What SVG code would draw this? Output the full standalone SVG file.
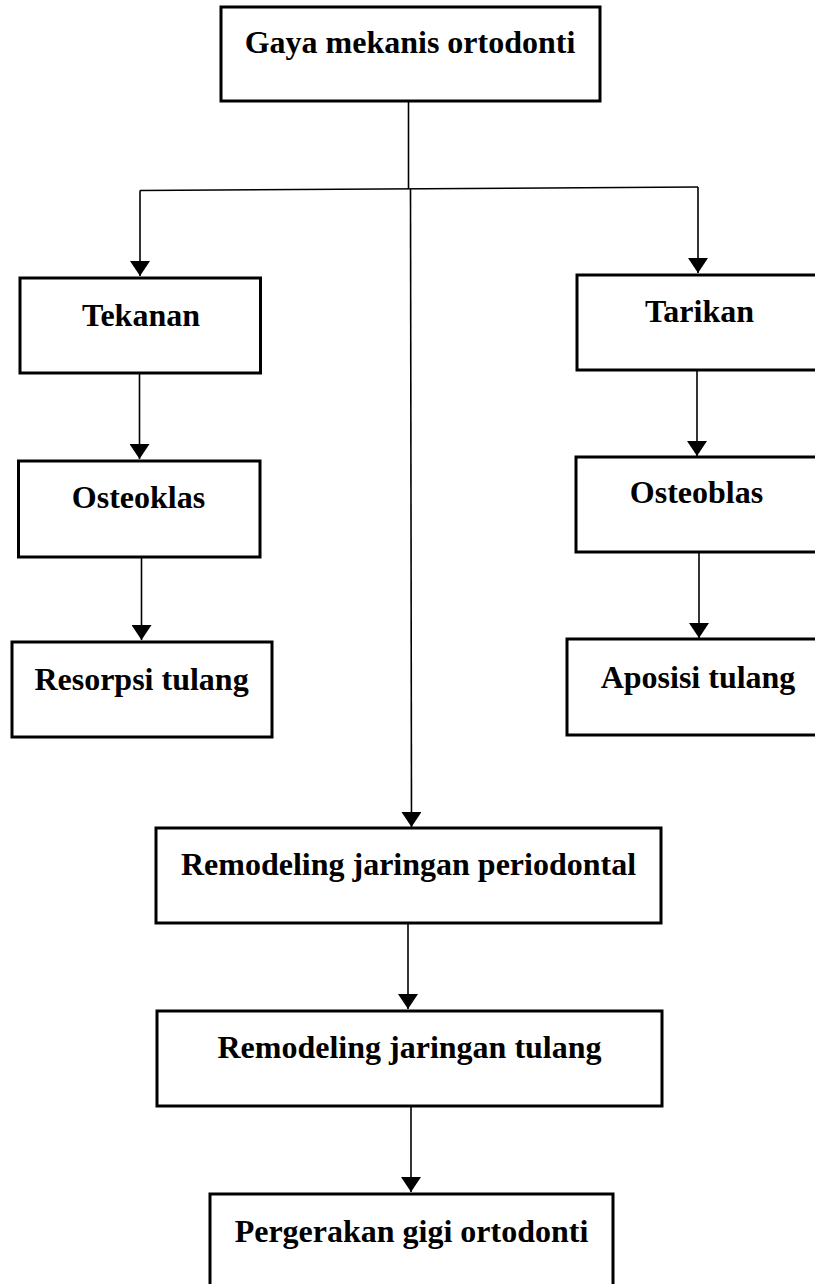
<svg xmlns="http://www.w3.org/2000/svg" width="815" height="1284" viewBox="0 0 815 1284">
<style>
.box{fill:#fff;stroke:#000;stroke-width:3}
.lbl{font-family:"Liberation Serif","Times New Roman",serif;font-weight:bold;font-size:32px;fill:#000;text-anchor:middle}
.con{fill:none;stroke:#000;stroke-width:1.6}
</style>
<defs>
<marker id="arr" markerWidth="15" markerHeight="20" refX="15" refY="10" orient="auto" markerUnits="userSpaceOnUse" viewBox="0 0 15 20">
<path d="M0,0 L15,10 L0,20 Z" fill="#000"/>
</marker>
</defs>
<rect width="815" height="1284" fill="#fff"/>
<g id="connectors">
<polyline class="con" points="408.5,101 408.5,189"/>
<line class="con" x1="140" y1="190.5" x2="698" y2="187"/>
<polyline class="con" points="140,190.5 140,276" marker-end="url(#arr)"/>
<polyline class="con" points="698,187 698,273" marker-end="url(#arr)"/>
<polyline class="con" points="410.5,189 411.5,827" marker-end="url(#arr)"/>
<polyline class="con" points="139.5,373 139.5,459" marker-end="url(#arr)"/>
<polyline class="con" points="697,370 697,456" marker-end="url(#arr)"/>
<polyline class="con" points="141.5,557 141.5,640" marker-end="url(#arr)"/>
<polyline class="con" points="699,552 699,638" marker-end="url(#arr)"/>
<polyline class="con" points="408,923 408,1009" marker-end="url(#arr)"/>
<polyline class="con" points="411,1106 411,1192" marker-end="url(#arr)"/>
</g>
<g id="n-gaya">
<rect class="box" x="221" y="7" width="379" height="94"/>
<text class="lbl" x="410" y="53">Gaya mekanis ortodonti</text>
</g>
<g id="n-tekanan">
<rect class="box" x="20" y="278" width="240.5" height="95"/>
<text class="lbl" x="141" y="326">Tekanan</text>
</g>
<g id="n-tarikan">
<rect class="box" x="577" y="275" width="250" height="95"/>
<text class="lbl" x="699.5" y="322">Tarikan</text>
</g>
<g id="n-osteoklas">
<rect class="box" x="18.5" y="461" width="241.5" height="96"/>
<text class="lbl" x="138.5" y="508">Osteoklas</text>
</g>
<g id="n-osteoblas">
<rect class="box" x="576" y="457" width="250" height="95"/>
<text class="lbl" x="696.5" y="503">Osteoblas</text>
</g>
<g id="n-resorpsi">
<rect class="box" x="12" y="642" width="260" height="95"/>
<text class="lbl" x="141.5" y="690">Resorpsi tulang</text>
</g>
<g id="n-aposisi">
<rect class="box" x="567" y="639" width="260" height="96"/>
<text class="lbl" x="698" y="688">Aposisi tulang</text>
</g>
<g id="n-remodel-perio">
<rect class="box" x="156" y="828" width="505" height="95"/>
<text class="lbl" x="408.5" y="875">Remodeling jaringan periodontal</text>
</g>
<g id="n-remodel-tulang">
<rect class="box" x="157" y="1011" width="505" height="95"/>
<text class="lbl" x="409.5" y="1058">Remodeling jaringan tulang</text>
</g>
<g id="n-pergerakan">
<rect class="box" x="210" y="1194" width="403" height="100"/>
<text class="lbl" x="411.5" y="1242">Pergerakan gigi ortodonti</text>
</g>
</svg>
